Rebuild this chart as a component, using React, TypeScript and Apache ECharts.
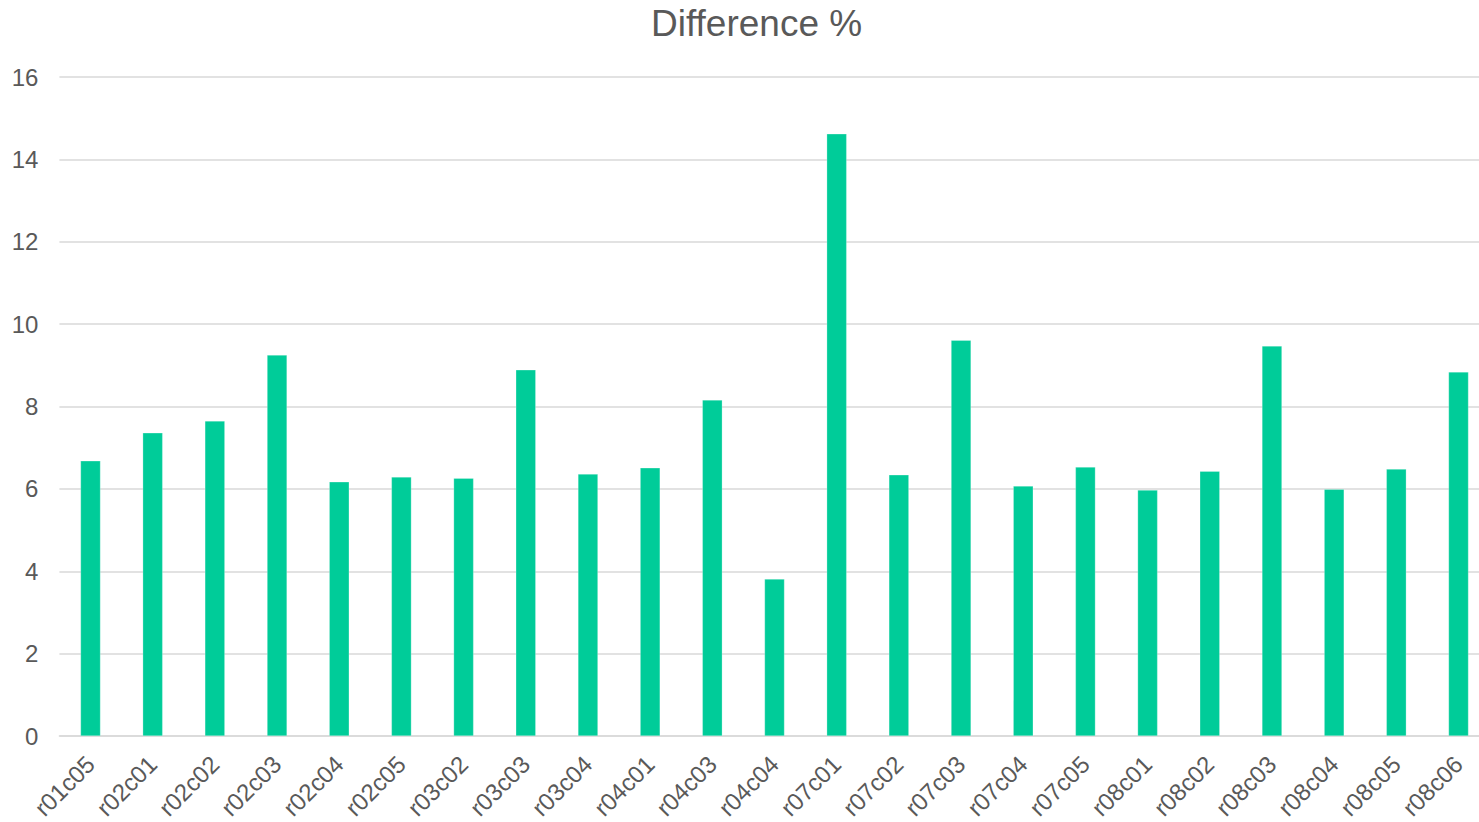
import React, { useEffect, useRef } from "react";
import * as echarts from "echarts";

const categories = [
  "r01c05", "r02c01", "r02c02", "r02c03", "r02c04", "r02c05", "r03c02", "r03c03",
  "r03c04", "r04c01", "r04c03", "r04c04", "r07c01", "r07c02", "r07c03", "r07c04",
  "r07c05", "r08c01", "r08c02", "r08c03", "r08c04", "r08c05", "r08c06",
];
const values = [
  6.68, 7.36, 7.65, 9.25, 6.17, 6.29, 6.26, 8.89,
  6.36, 6.51, 8.16, 3.81, 14.62, 6.34, 9.61, 6.07,
  6.53, 5.97, 6.43, 9.47, 5.99, 6.48, 8.84,
];
const yTicks = [0, 2, 4, 6, 8, 10, 12, 14, 16];
const title = "Difference %";

export default function App() {
  const ref = useRef<HTMLDivElement>(null);
  useEffect(() => {
    if (!ref.current) return;
    const chart = echarts.init(ref.current, null, { renderer: "svg" });
    const font = "'Liberation Sans', Arial, sans-serif";
    chart.setOption({
      animation: false,
      backgroundColor: "#ffffff",
      title: {
        text: title,
        left: 646,
        top: 0,
        textStyle: { fontFamily: font, fontSize: 37, fontWeight: "normal", color: "#595959" },
      },
      grid: {
        left: 59.4,
        width: 1430.2,
        top: 77,
        height: 659,
        containLabel: false,
        outerBoundsMode: "none",
      },
      xAxis: {
        type: "category",
        data: categories,
        axisLine: { show: true, lineStyle: { color: "#d9d9d9", width: 1.5 } },
        axisTick: { show: false },
        axisLabel: {
          rotate: 45,
          interval: 0,
          margin: 24,
          fontFamily: font,
          fontSize: 24,
          color: "#595959",
        },
      },
      yAxis: {
        type: "value",
        min: yTicks[0],
        max: yTicks[yTicks.length - 1],
        interval: 2,
        axisLine: { show: false },
        axisTick: { show: false },
        splitLine: { lineStyle: { color: "#d9d9d9", width: 1.5 } },
        axisLabel: { fontFamily: font, fontSize: 24, color: "#595959", margin: 21 },
      },
      series: [
        {
          type: "bar",
          data: values,
          barWidth: 20,
          itemStyle: { color: "#00CC99", borderColor: "rgba(255,255,255,0.5)", borderWidth: 0.5 },
        },
      ],
    });
    return () => chart.dispose();
  }, []);
  return (
    <div
      ref={ref}
      style={{ position: "fixed", left: 0, top: 0, width: 1479, height: 822 }}
    />
  );
}
